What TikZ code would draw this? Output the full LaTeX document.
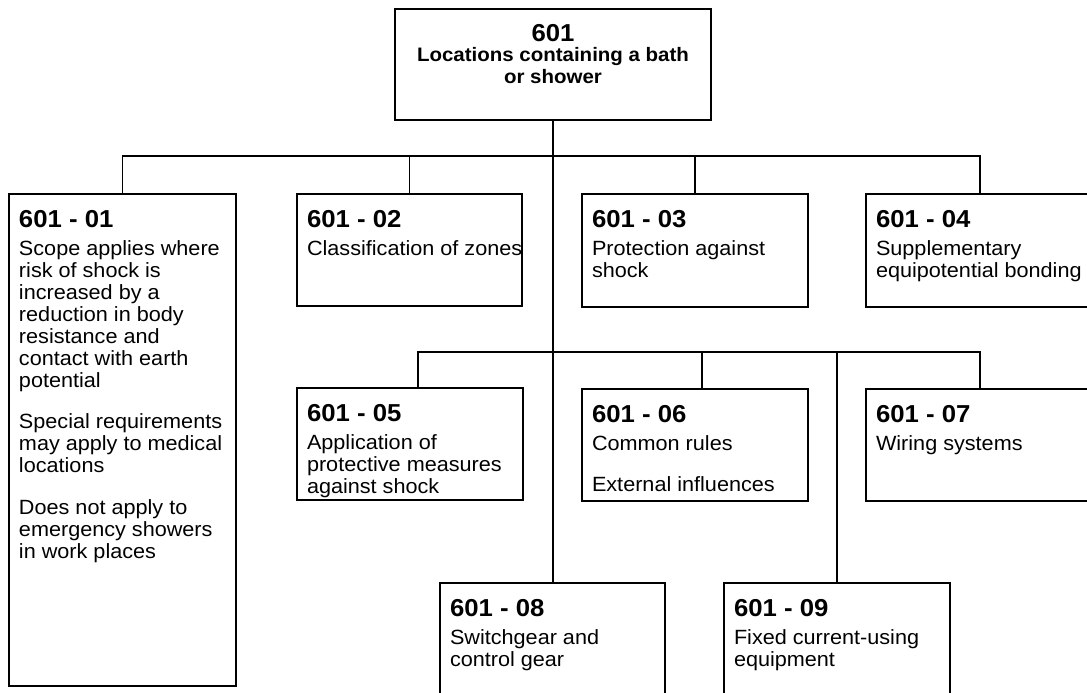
\documentclass[tikz,border=0pt]{standalone}
\usepackage{fontspec}
\setmainfont{Liberation Sans}[FakeStretch=1.05]
\begin{document}
% fonts for section numbers and descriptions
\newcommand\secnumfont{\bfseries\fontsize{24.5}{22}\selectfont}
\newcommand\secbodyfont{\fontsize{20.6}{22}\selectfont}
% fixed-size, top-aligned box contents: width, height, number, description
\newcommand\secbox[4]{\parbox[c][#2pt][t]{\dimexpr#1pt-20pt\relax}{%
  \secbodyfont\raggedright\rule{0pt}{33.5pt}{\secnumfont #3}\\[5.5pt]#4}}
\begin{tikzpicture}[x=1pt,y=-1pt,
  secnode/.style={draw, line width=1.7pt, inner xsep=10pt, inner ysep=0pt,
    outer sep=0pt, anchor=north west},
  link/.style={line width=1.2pt}]
\useasboundingbox (0,0) rectangle (1087,693);
\clip (0,0) rectangle (1087,693);

% root
\node[secnode] (top) at (395,9) {\parbox[c][111pt][t]{296pt}{\centering
  \bfseries\fontsize{19.5}{21.7}\selectfont
  \rule{0pt}{32.7pt}{\fontsize{24.5}{20}\selectfont 601}\\[-1.7pt]
  Locations containing a bath\\ or shower}};

% first row
\node[secnode] (s1) at (9,194) {\secbox{227}{492}{601 - 01}{Scope applies where\\
  risk of shock is\\ increased by a\\ reduction in body\\ resistance and\\
  contact with earth\\ potential\\[19.5pt]
  Special requirements\\ may apply to medical\\ locations\\[19.5pt]
  Does not apply to\\ emergency showers\\ in work places}};
\node[secnode] (s2) at (297,194) {\secbox{225}{112}{601 - 02}{\mbox{Classification of zones}}};
\node[secnode] (s3) at (582,194) {\secbox{226}{113}{601 - 03}{Protection against\\ shock}};
\node[secnode] (s4) at (866,194) {\secbox{228}{113}{601 - 04}{Supplementary\\ \mbox{equipotential bonding}}};

% second row
\node[secnode] (s5) at (297,388) {\secbox{226}{112}{601 - 05}{Application of\\
  \mbox{protective measures}\\ against shock}};
\node[secnode] (s6) at (582,389) {\secbox{226}{112}{601 - 06}{Common rules\\[19.5pt]
  External influences}};
\node[secnode] (s7) at (866,389) {\secbox{228}{112}{601 - 07}{Wiring systems}};

% third row
\node[secnode] (s8) at (440,583) {\secbox{225}{140}{601 - 08}{Switchgear and\\ control gear}};
\node[secnode] (s9) at (724,583) {\secbox{226}{140}{601 - 09}{Fixed current-using\\ equipment}};

% connectors
\coordinate (bar1) at (553,156);
\coordinate (bar2) at (553,352);
\draw[link] (top.south) -- (top.south |- s8.north);
\draw[link] (s1.north) |- (bar1) -| (s4.north);
\draw[link] (s2.north) -- (s2.north |- bar1);
\draw[link] (s3.north) -- (s3.north |- bar1);
\draw[link] ([xshift=8pt]s5.north) |- (bar2) -| (s7.north);
\draw[link] ([xshift=7pt]s6.north) -- ([xshift=7pt]s6.north |- bar2);
\draw[link] (s9.north) -- (s9.north |- bar2);
\end{tikzpicture}
\end{document}
